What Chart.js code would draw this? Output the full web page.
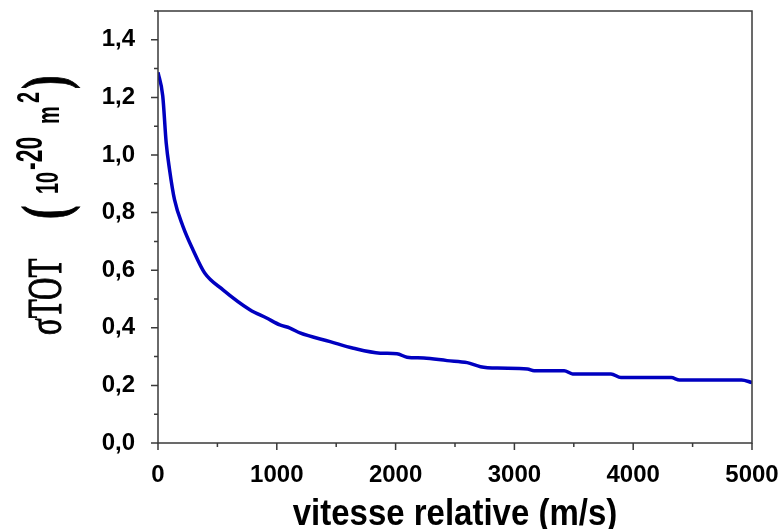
<!DOCTYPE html>
<html>
<head>
<meta charset="utf-8">
<script src="https://cdn.jsdelivr.net/npm/chart.js@4"></script>
<style>
  html, body { margin: 0; padding: 0; background: #fff; }
  #wrap { width: 781px; height: 529px; }
</style>
</head>
<body>
<div id="wrap"><canvas id="myChart" width="781" height="529"></canvas></div>
<script>
// values
let vitesse = [0, 40, 69, 97, 139, 210, 294, 393, 547, 773, 914, 1026, 1111, 1195, 1449, 1645, 1871, 2012,
               2096, 2237, 2434, 2603, 2715, 2856, 3110, 3166, 3419, 3490, 3813, 3897, 4320, 4390, 4911, 5000];
let sigmaTot = [1.287, 1.205, 1.042, 0.95, 0.845, 0.752, 0.671, 0.59, 0.532, 0.463, 0.434, 0.41, 0.399, 0.382,
                0.352, 0.329, 0.312, 0.31, 0.298, 0.295, 0.286, 0.279, 0.265, 0.26, 0.257, 0.251, 0.251, 0.24,
                0.24, 0.227, 0.227, 0.219, 0.219, 0.21];
let xTicks = [0, 1000, 2000, 3000, 4000, 5000];
let yTicks = [0, 0.2, 0.4, 0.6, 0.8, 1.0, 1.2, 1.4];
let xMinor = [500, 1500, 2500, 3500, 4500];
let yMinor = [0.1, 0.3, 0.5, 0.7, 0.9, 1.1, 1.3, 1.5];
let xTitle = 'vitesse relative (m/s)';

const sans = 'Arial, "Liberation Sans", sans-serif';
const serif = '"Times New Roman", "Liberation Serif", serif';

// frame, tick marks and axis titles
const decor = {
    id: 'decor',
    afterDraw(chart) {
        const ctx = chart.ctx, a = chart.chartArea;
        const xs = chart.scales.x, ys = chart.scales.y;
        ctx.save();
        ctx.strokeStyle = '#3a3a3a';
        ctx.lineWidth = 1.5;
        ctx.strokeRect(a.left, a.top, a.right - a.left, a.bottom - a.top);
        ctx.beginPath();
        xTicks.forEach(v => { let p = xs.getPixelForValue(v); ctx.moveTo(p, a.bottom); ctx.lineTo(p, a.bottom + 7); });
        xMinor.forEach(v => { let p = xs.getPixelForValue(v); ctx.moveTo(p, a.bottom); ctx.lineTo(p, a.bottom + 4); });
        yTicks.forEach(v => { let p = ys.getPixelForValue(v); ctx.moveTo(a.left, p); ctx.lineTo(a.left - 7, p); });
        yMinor.forEach(v => { let p = ys.getPixelForValue(v); ctx.moveTo(a.left, p); ctx.lineTo(a.left - 4, p); });
        ctx.stroke();

        ctx.fillStyle = '#000';
        // x title
        ctx.save();
        ctx.translate((a.left + a.right) / 2, 525);
        ctx.scale(1, 1.1);
        ctx.font = 'bold 33px ' + sans;
        ctx.textAlign = 'center';
        ctx.textBaseline = 'alphabetic';
        ctx.fillText(xTitle, 0, 0);
        ctx.restore();

        // y title, rotated, glyphs stretched like the original
        ctx.save();
        ctx.translate(61, 335);
        ctx.rotate(-Math.PI / 2);
        ctx.scale(1, 1.6);
        ctx.textAlign = 'left';
        ctx.textBaseline = 'alphabetic';
        ctx.strokeStyle = '#000';
        ctx.lineWidth = 0.7;
        const parts = [
            ['\u03C3TOT', '31px ' + serif, 0, 0, true],
            ['(', 'bold 40px ' + serif, 116, 3, true],
            ['10', 'bold 20px ' + sans, 141, -2, false],
            ['-20', 'bold 23px ' + sans, 165, -12, false],
            ['m', 'bold 20px ' + sans, 211, -1, false],
            ['2', 'bold 20px ' + sans, 232, -14, false],
            [')', 'bold 40px ' + serif, 246, 3, true]
        ];
        parts.forEach(p => {
            ctx.font = p[1];
            ctx.fillText(p[0], p[2], p[3]);
            if (p[4]) ctx.strokeText(p[0], p[2], p[3]);
        });
        ctx.restore();
        ctx.restore();
    }
};

let myChart = document.getElementById('myChart').getContext('2d');

let sigmaChart = new Chart(myChart, {
    type: 'line',
    data: {
        datasets: [{
            label: 'sigma TOT',
            data: vitesse.map((v, i) => ({ x: v, y: sigmaTot[i] })),
            borderColor: '#0000c0',
            borderWidth: 3.5,
            pointRadius: 0,
            cubicInterpolationMode: 'monotone',
            fill: false
        }]
    },
    options: {
        responsive: false,
        animation: false,
        layout: { padding: { left: 0, top: 11, right: 29, bottom: 0 } },
        plugins: { legend: { display: false }, tooltip: { enabled: false } },
        scales: {
            x: {
                type: 'linear',
                min: 0, max: 5000,
                grid: { display: false },
                border: { display: false },
                afterBuildTicks: s => { s.ticks = xTicks.map(v => ({ value: v })); },
                afterFit: s => { s.height = 86; s.paddingLeft = 0; s.paddingRight = 0; },
                ticks: {
                    autoSkip: false, maxRotation: 0, padding: 10,
                    color: '#000',
                    font: { family: sans, size: 24, weight: 'bold' },
                    callback: v => String(v)
                }
            },
            y: {
                type: 'linear',
                min: 0, max: 1.5,
                grid: { display: false },
                border: { display: false },
                afterBuildTicks: s => { s.ticks = yTicks.map(v => ({ value: v })); },
                afterFit: s => { s.width = 158; s.paddingTop = 0; s.paddingBottom = 0; },
                ticks: {
                    autoSkip: false, padding: 15,
                    color: '#000',
                    font: { family: sans, size: 24, weight: 'bold' },
                    callback: v => v.toFixed(1).replace('.', ',')
                }
            }
        }
    },
    plugins: [decor]
});
</script>
</body>
</html>
